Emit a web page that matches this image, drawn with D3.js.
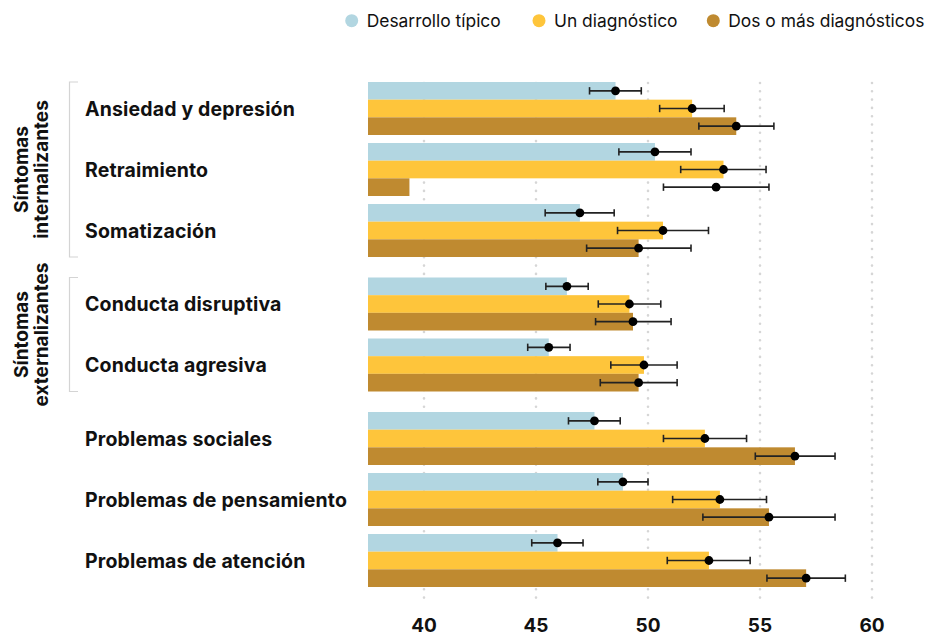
<!DOCTYPE html>
<html>
<head>
<meta charset="utf-8">
<script src="https://cdn.jsdelivr.net/npm/d3@7"></script>
<style>
  body { margin: 0; background: #fff; }
  svg { display: block; font-family: Inter, "Noto Sans", sans-serif; }
</style>
</head>
<body>
<svg id="chart"></svg>
<script>
// categories, grouped by section
var categories = ['Ansiedad y depresión', 'Retraimiento', 'Somatización',
  'Conducta disruptiva', 'Conducta agresiva',
  'Problemas sociales', 'Problemas de pensamiento', 'Problemas de atención'];
var sectionOf = [0, 0, 0, 1, 1, 2, 2, 2];
var sections = [['Síntomas', 'internalizantes'], ['Síntomas', 'externalizantes'], null];

var series = ['Desarrollo típico', 'Un diagnóstico', 'Dos o más diagnósticos'];
var colors = ['#b2d6e1', '#fec53b', '#bf8a30'];

// means per series
var tipicoMean = [48.55, 50.31, 46.96, 46.38, 45.57, 47.61, 48.88, 45.96];
var unoMean    = [51.97, 53.37, 50.67, 49.17, 49.82, 52.54, 53.21, 52.72];
var dosMean    = [53.94, 53.04, 49.58, 49.33, 49.58, 56.56, 55.40, 57.06];
// bar lengths (same as means except one drawn short in the original)
var tipicoBar = [48.55, 50.31, 46.96, 46.38, 45.57, 47.61, 48.88, 45.96];
var unoBar    = [51.97, 53.37, 50.67, 49.17, 49.82, 52.54, 53.21, 52.72];
var dosBar    = [53.94, 39.35, 49.58, 49.33, 49.58, 56.56, 55.40, 57.06];
// confidence intervals
var tipicoLo = [47.39, 48.70, 45.41, 45.44, 44.63, 46.45, 47.76, 44.81];
var tipicoHi = [49.70, 51.92, 48.49, 47.33, 46.52, 48.76, 50.00, 47.10];
var unoLo    = [50.52, 51.46, 48.64, 47.78, 48.34, 50.69, 51.10, 50.86];
var unoHi    = [53.40, 55.27, 52.70, 50.57, 51.30, 54.40, 55.29, 54.56];
var dosLo    = [52.27, 50.69, 47.26, 47.66, 47.87, 54.79, 52.45, 55.31];
var dosHi    = [55.62, 55.40, 51.92, 51.03, 51.30, 58.35, 58.35, 58.81];

var ticks = [40, 45, 50, 55, 60];

var width = 944, height = 637;
var svg = d3.select('#chart').attr('width', width).attr('height', height);

var x = d3.scaleLinear().domain([37.5, 60]).range([368, 872]);

var groupStep = 61, sectionGap = 12.5, groupH = 53, top0 = 82;
var rowScale = d3.scaleLinear().domain([0, 1]).range([top0, top0 + groupStep]);
function groupTop(i) { return rowScale(i) + sectionOf[i] * sectionGap; }
var sub = d3.scaleBand().domain(series).range([0, groupH]);

var data = [];
var means = [tipicoMean, unoMean, dosMean];
var bars = [tipicoBar, unoBar, dosBar];
var los = [tipicoLo, unoLo, dosLo];
var his = [tipicoHi, unoHi, dosHi];
categories.forEach(function(c, i) {
  series.forEach(function(s, j) {
    data.push({cat: c, i: i, series: s, j: j, bar: bars[j][i], mean: means[j][i], lo: los[j][i], hi: his[j][i]});
  });
});

// gridlines
svg.append('g').selectAll('line').data(ticks).enter().append('line')
  .attr('x1', function(d) { return x(d); })
  .attr('x2', function(d) { return x(d); })
  .attr('y1', 83).attr('y2', 601)
  .attr('stroke', '#d6d6d6').attr('stroke-width', 2.6)
  .attr('stroke-linecap', 'round').attr('stroke-dasharray', '0,8.3');

// tick labels
svg.append('g').selectAll('text').data(ticks).enter().append('text')
  .attr('x', function(d) { return x(d); })
  .attr('y', 632)
  .attr('text-anchor', 'middle')
  .attr('font-size', 19).attr('font-weight', 700).attr('fill', '#111')
  .text(function(d) { return d; });

// bars
svg.append('g').selectAll('rect').data(data).enter().append('rect')
  .attr('x', x(37.5))
  .attr('y', function(d) { return groupTop(d.i) + sub(d.series); })
  .attr('width', function(d) { return x(d.bar) - x(37.5); })
  .attr('height', sub.bandwidth())
  .attr('fill', function(d) { return colors[d.j]; });

// error bars
var err = svg.append('g').selectAll('g').data(data).enter().append('g')
  .attr('transform', function(d) {
    return 'translate(0,' + (groupTop(d.i) + sub(d.series) + sub.bandwidth() / 2) + ')';
  });
err.append('line')
  .attr('x1', function(d) { return x(d.lo); })
  .attr('x2', function(d) { return x(d.hi); })
  .attr('stroke', '#222').attr('stroke-width', 1.6);
err.append('line')
  .attr('x1', function(d) { return x(d.lo); })
  .attr('x2', function(d) { return x(d.lo); })
  .attr('y1', -3.7).attr('y2', 3.7)
  .attr('stroke', '#222').attr('stroke-width', 1.6);
err.append('line')
  .attr('x1', function(d) { return x(d.hi); })
  .attr('x2', function(d) { return x(d.hi); })
  .attr('y1', -3.7).attr('y2', 3.7)
  .attr('stroke', '#222').attr('stroke-width', 1.6);
err.append('circle')
  .attr('cx', function(d) { return x(d.mean); })
  .attr('r', 4.4)
  .attr('fill', '#000');

// category labels
svg.append('g').selectAll('text').data(categories).enter().append('text')
  .attr('x', 85)
  .attr('y', function(d, i) { return groupTop(i) + groupH / 2; })
  .attr('dy', '0.36em')
  .attr('font-size', 19.5).attr('font-weight', 700).attr('fill', '#111')
  .attr('letter-spacing', 0.15)
  .text(function(d) { return d; });

// section brackets and labels
sections.forEach(function(lines, s) {
  if (!lines) return;
  var idx = [];
  sectionOf.forEach(function(v, i) { if (v === s) idx.push(i); });
  var y0 = groupTop(idx[0]);
  var y1 = groupTop(idx[idx.length - 1]) + groupH;
  svg.append('path')
    .attr('d', 'M78,' + y0 + 'H69.5V' + y1 + 'H78')
    .attr('fill', 'none').attr('stroke', '#d4d4d4').attr('stroke-width', 1.2);
  var t = svg.append('text')
    .attr('transform', 'translate(28,' + ((y0 + y1) / 2) + ') rotate(-90)')
    .attr('text-anchor', 'middle')
    .attr('font-size', 19).attr('font-weight', 700).attr('fill', '#111');
  lines.forEach(function(l, k) {
    t.append('tspan').attr('x', 0).attr('y', k * 19.5).text(l);
  });
});

// legend
var legendX = [351.7, 539, 713.3];
var lg = svg.append('g').selectAll('g').data(series).enter().append('g')
  .attr('transform', function(d, i) { return 'translate(' + legendX[i] + ',20.7)'; });
lg.append('circle').attr('r', 6.5).attr('fill', function(d, i) { return colors[i]; });
lg.append('text')
  .attr('x', 15).attr('dy', '0.36em')
  .attr('font-size', 17.4).attr('fill', '#111')
  .text(function(d) { return d; });
</script>
</body>
</html>
